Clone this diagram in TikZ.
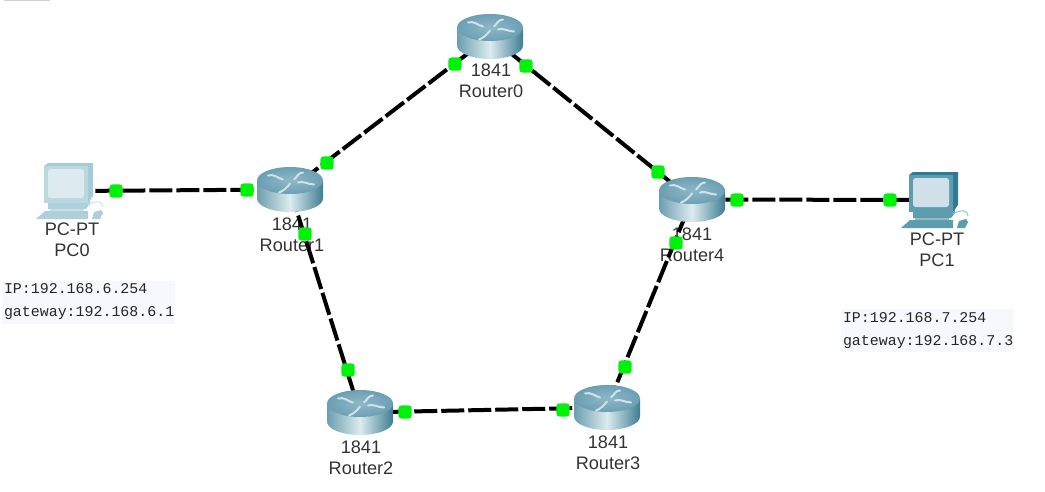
\documentclass[tikz,border=0pt]{standalone}
\usepackage{fontspec}
\setmainfont{Liberation Sans}
\newfontfamily\ipfont{Liberation Mono}
\definecolor{portgreen}{HTML}{00F20A}
\definecolor{rTop}{HTML}{6C9FB3}
\definecolor{rTopIn}{HTML}{8DB8C8}
\definecolor{rL}{HTML}{6C9EAE}
\definecolor{rM}{HTML}{DCEBEF}
\definecolor{rR}{HTML}{3F7E92}
\definecolor{rArrow}{HTML}{CFE2E8}
\definecolor{ipbg}{HTML}{F7F8FD}
\definecolor{pcAface}{HTML}{B9D8E0}
\definecolor{pcAside}{HTML}{A4CBD6}
\definecolor{pcAscreen}{HTML}{DDEBF0}
\definecolor{pcAbase}{HTML}{AFD0DA}
\definecolor{pcBface}{HTML}{5E9DB0}
\definecolor{pcBside}{HTML}{2F7A90}
\definecolor{pcBscreen}{HTML}{CFE0E8}
\definecolor{pcBbase}{HTML}{5F9DAE}
\tikzset{
  x=0.75pt,y=-0.75pt,
  anchorpt/.style={inner sep=0pt,minimum size=0pt},
  link/.style={draw=black,line width=3pt,dash pattern=on 17.25pt off 3pt},
  port/.style={fill=portgreen,draw=none,rounded corners=2.5pt,minimum size=10pt,inner sep=0pt},
  devlabel/.style={align=center,font=\fontsize{13.6pt}{15.75pt}\selectfont,text=black!80,inner sep=0pt},
  ipbox/.style={fill=ipbg,minimum width=129.75pt,minimum height=32.25pt,inner sep=1.5pt,align=left,text width=126.75pt,
     font=\ipfont\fontsize{11.2pt}{17.25pt}\selectfont,text=black!85},
  rarrow/.style={rArrow,line width=1.5pt,line cap=round},
  pics/router/.style={code={
    \shade[left color=rL,right color=rR,middle color=rM]
       (-33,-9) -- (-33,9) arc[start angle=180,end angle=0,x radius=33,y radius=13.5] -- (33,-9) -- cycle;
    \shade[inner color=rTopIn,outer color=rTop] (0,-9) ellipse[x radius=33,y radius=13.5];
    \draw[rarrow] (-22,-14) .. controls (-16,-16) and (-12,-11) .. (-7,-10);
    \draw[rarrow] (8,-7) .. controls (13,-9) and (18,-5) .. (24,-5);
    \draw[rarrow] (13,-17) .. controls (8,-17) and (7,-12) .. (4,-10);
    \draw[rarrow] (0,-6) .. controls (-3,-2) and (-6,1) .. (-11,3);
  }},
  pics/pcicon/.style={code={
    \fill[pc#1side] (-26,-25) -- (-22,-28) -- (23,-28) -- (23,5) -- (18,12) -- (18,-25) -- cycle;
    \fill[pc#1face] (-26,-25) rectangle (18,12);
    \fill[pc#1screen,rounded corners=2pt] (-22,-22) rectangle (14,7);
    \fill[pc#1base] (-22,12) -- (18,12) -- (20,9) -- (20,13) -- (16,18) -- (-22,18) -- cycle;
    \fill[pc#1base!70!white] (-20,18) rectangle (14,20);
    \fill[pc#1base] (-34,28) -- (-25,20) -- (18,20) -- (18,28) -- cycle;
    \draw[pc#1base!60!white,line width=.8pt] (18,14) .. controls (26,9) and (33,10) .. (33,16);
    \fill[pc#1base] (22,28) -- (24,21) -- (31,19) -- (33,22) -- (30,28) -- cycle;
  }},
}
\begin{document}
\begin{tikzpicture}
\useasboundingbox (0,0) rectangle (1045,492);
\fill[black!18] (4,0) rectangle (50,1.5);
% anchors of devices
\node[anchorpt] (r0) at (490,36.5) {};
\node[anchorpt] (r1) at (290,189.5) {};
\node[anchorpt] (r2) at (360,412.5) {};
\node[anchorpt] (r3) at (607,407.5) {};
\node[anchorpt] (r4) at (692,199.5) {};
\node[anchorpt] (pc0) at (70,191) {};
\node[anchorpt] (pc1) at (935,200) {};
% labels
\node[devlabel] (lr0) at (491,80.5) {1841\\Router0};
\node[devlabel] (lr1) at (292,234.5) {1841\\Router1};
\node[devlabel] (lr2) at (361,457.5) {1841\\Router2};
\node[devlabel] (lr3) at (608,453) {1841\\Router3};
\node[devlabel] (lr4) at (692,245) {1841\\Router4};
\node[devlabel] (lpc0) at (72,239.5) {PC-PT\\PC0};
\node[devlabel] (lpc1) at (937,250) {PC-PT\\PC1};
\node[ipbox] (ip0) at (88.5,302) {IP:192.168.6.254\\gateway:192.168.6.1};
\node[ipbox] (ip1) at (927.5,330.5) {IP:192.168.7.254\\gateway:192.168.7.3};
% links
\draw[link] (r0) -- (r1);
\draw[link] (r0) -- (r4);
\draw[link] (r1) -- (r2);
\draw[link] (r2) -- (r3);
\draw[link] (r3) -- (r4);
\draw[link,dash phase=1.5pt] (pc0) -- (r1);
\draw[link,dash phase=15.75pt] (r4) -- (pc1);
% icons
\pic at (r0) {router};
\pic at (r1) {router};
\pic at (r2) {router};
\pic at (r3) {router};
\pic at (r4) {router};
\pic at (pc0) {pcicon=A};
\pic at (pc1) {pcicon=B};
% ports
\node[port] (p01) at (455,64) {};
\node[port] (p04) at (526,66) {};
\node[port] (p10) at (327,163) {};
\node[port] (p40) at (658,172) {};
\node[port] (p12) at (305,234) {};
\node[port] (p21) at (348,370) {};
\node[port] (p23) at (405,412) {};
\node[port] (p32) at (563,410) {};
\node[port] (p34) at (625,367) {};
\node[port] (p43) at (676,243) {};
\node[port] (pp0) at (116,191) {};
\node[port] (p1p) at (247,190) {};
\node[port] (p4p) at (737,200) {};
\node[port] (pp1) at (890,200) {};
\end{tikzpicture}
\end{document}
